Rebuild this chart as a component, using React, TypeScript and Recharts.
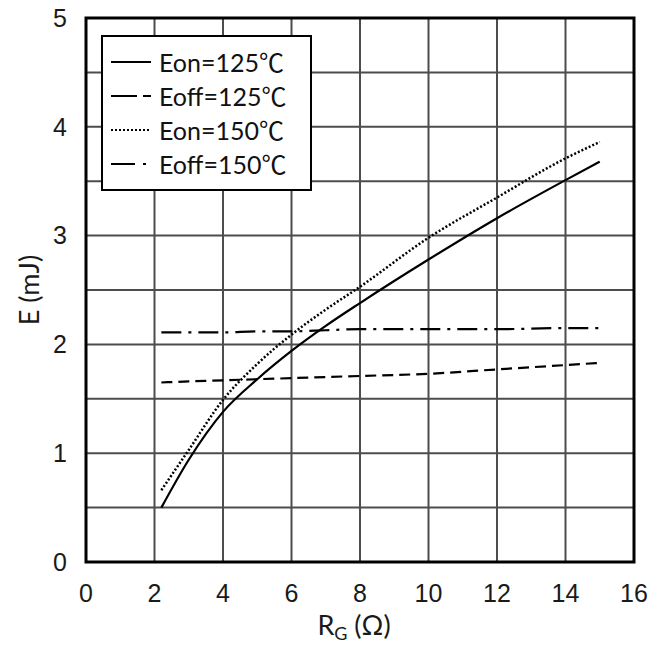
import React from 'react';
import { LineChart, Line, XAxis, YAxis, CartesianGrid, Legend, ReferenceArea, Label } from 'recharts';

// gate resistance (ohm) sample points
const rg = [2.2, 3, 4, 5, 6, 7, 8, 10, 12, 14, 15];

const eon125 = [0.5, 0.94, 1.38, 1.68, 1.94, 2.17, 2.38, 2.78, 3.16, 3.51, 3.68];
const eoff125 = [1.65, 1.66, 1.67, 1.68, 1.69, 1.7, 1.71, 1.73, 1.77, 1.81, 1.83];
const eon150 = [0.66, 1.03, 1.49, 1.82, 2.09, 2.32, 2.53, 2.98, 3.35, 3.71, 3.86];
const eoff150 = [2.11, 2.11, 2.11, 2.12, 2.12, 2.13, 2.14, 2.14, 2.14, 2.15, 2.15];

const xTicks = [0, 2, 4, 6, 8, 10, 12, 14, 16];
const yTicks = [0, 0.5, 1, 1.5, 2, 2.5, 3, 3.5, 4, 4.5, 5];

const series = [
  { name: 'Eon=125℃', values: eon125, dash: undefined, legendDash: undefined },
  { name: 'Eoff=125℃', values: eoff125, dash: '11 6', legendDash: '26 6 8 100' },
  { name: 'Eon=150℃', values: eon150, dash: '2 2', legendDash: '2 2' },
  { name: 'Eoff=150℃', values: eoff150, dash: '20 7 3 7', legendDash: '24 8 3 100' },
];

const data = rg.map((x, i) => ({
  x,
  s0: eon125[i],
  s1: eoff125[i],
  s2: eon150[i],
  s3: eoff150[i],
}));

const textFont = 'Lato, "Noto Sans CJK SC", sans-serif';
const tickFont = '"Liberation Sans", Arial, sans-serif';

const LegendBox = () => (
  <div
    style={{
      border: '2px solid #000',
      background: '#fff',
      width: 207,
      height: 144,
      boxSizing: 'content-box',
      paddingTop: 8,
    }}
  >
    {series.map((s) => (
      <div key={s.name} style={{ display: 'flex', alignItems: 'center', height: 34 }}>
        <svg width={56} height={20} style={{ flex: 'none' }}>
          <line
            x1={8}
            x2={48}
            y1={10}
            y2={10}
            stroke="#000"
            strokeWidth={2}
            strokeDasharray={s.legendDash}
          />
        </svg>
        <span style={{ fontFamily: textFont, fontSize: 25, color: '#111', lineHeight: '26px' }}>
          {s.name}
        </span>
      </div>
    ))}
  </div>
);

export default function App() {
  return (
    <div style={{ position: 'absolute', left: 0, top: 0, background: '#fff' }}>
      <LineChart
        width={665}
        height={646}
        data={data}
        margin={{ top: 18, right: 31, left: 0, bottom: 0 }}
      >
        <CartesianGrid stroke="#4d4d4d" strokeWidth={2} />
        <XAxis
          dataKey="x"
          type="number"
          domain={[0, 16]}
          ticks={xTicks}
          tickLine={false}
          tickSize={0}
          tickMargin={22}
          axisLine={false}
          height={84}
          tick={{ fontFamily: tickFont, fontSize: 25, fill: '#1a1a1a' }}
        >
          <Label
            content={() => (
              <text
                x={354}
                y={635}
                textAnchor="middle"
                fontFamily={textFont}
                fontSize={27}
                fill="#1a1a1a"
              >
                R<tspan fontSize={18} dy={5}>G</tspan>
                <tspan dy={-5}> (Ω)</tspan>
              </text>
            )}
          />
        </XAxis>
        <YAxis
          type="number"
          domain={[0, 5]}
          ticks={yTicks}
          tickFormatter={(v: number) => (Number.isInteger(v) ? String(v) : '')}
          tickLine={false}
          tickSize={0}
          tickMargin={19}
          axisLine={false}
          width={86}
          tick={{ fontFamily: tickFont, fontSize: 25, fill: '#1a1a1a' }}
        >
          <Label
            content={() => (
              <text
                x={28}
                y={290}
                transform="rotate(-90 28 290)"
                textAnchor="middle"
                dominantBaseline="central"
                fontFamily={textFont}
                fontSize={27}
                fill="#1a1a1a"
              >
                E (mJ)
              </text>
            )}
          />
        </YAxis>
        <ReferenceArea
          x1={0}
          x2={16}
          y1={0}
          y2={5}
          fill="none"
          fillOpacity={0}
          stroke="#000"
          strokeWidth={3}
          ifOverflow="visible"
        />
        {series.map((s, i) => (
          <Line
            key={s.name}
            dataKey={`s${i}`}
            name={s.name}
            type="monotone"
            stroke="#000"
            strokeWidth={s.dash === '2 2' ? 2.5 : 2.2}
            strokeDasharray={s.dash}
            dot={false}
            activeDot={false}
            isAnimationActive={false}
          />
        ))}
        <Legend
          layout="vertical"
          verticalAlign="middle"
          align="center"
          content={() => <LegendBox />}
          wrapperStyle={{ left: 101, top: 35, width: 'auto' }}
        />
      </LineChart>
    </div>
  );
}
